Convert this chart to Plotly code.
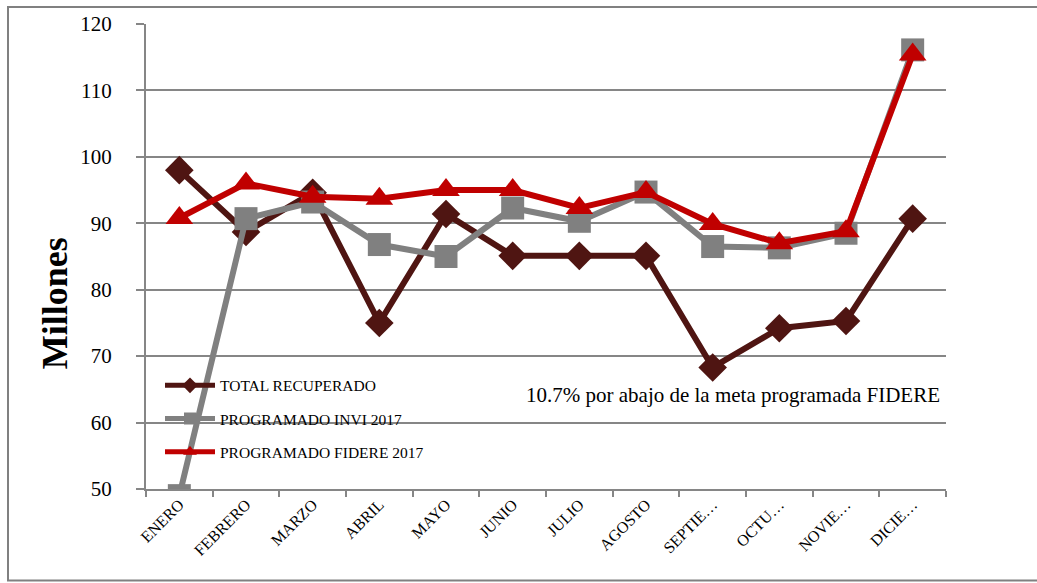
import plotly.graph_objects as go

months = ["ENERO", "FEBRERO", "MARZO", "ABRIL", "MAYO", "JUNIO", "JULIO",
          "AGOSTO", "SEPTIE…", "OCTU…", "NOVIE…", "DICIE…"]
total_recuperado = [98.0, 88.7, 94.6, 75.0, 91.4, 85.1, 85.1, 85.1, 68.3, 74.2, 75.3, 90.7]
programado_invi = [49.0, 90.7, 93.2, 86.8, 85.0, 92.3, 90.3, 94.7, 86.5, 86.3, 88.5, 116.1]
programado_fidere = [90.8, 96.0, 94.0, 93.7, 95.0, 95.0, 92.3, 94.7, 89.9, 87.0, 88.8, 115.4]
series_names = ["TOTAL RECUPERADO", "PROGRAMADO INVI 2017", "PROGRAMADO FIDERE 2017"]
note_text = "10.7% por abajo de la meta programada FIDERE"

FONT = "Liberation Serif"
W, H = 1037, 583
L, R, T, B = 146, 91, 21, 94
pw, ph = W - L - R, H - T - B

def px_x(x):
    return (x - L) / pw

def px_y(y):
    return (H - B - y) / ph

fig = go.Figure()
fig.add_trace(go.Scatter(
    x=months, y=total_recuperado, name=series_names[0], mode="lines+markers",
    line=dict(color="#4f1512", width=6),
    marker=dict(symbol="diamond", size=22, color="#4f1512"),
    legendgroup="a"))
fig.add_trace(go.Scatter(
    x=months, y=programado_invi, name=series_names[1], mode="lines+markers",
    line=dict(color="#808080", width=6),
    marker=dict(symbol="square", size=23, color="#808080"),
    legendgroup="b"))
fig.add_trace(go.Scatter(
    x=months, y=programado_fidere, name=series_names[2], mode="lines+markers",
    line=dict(color="#c00000", width=6),
    marker=dict(symbol="triangle-up", size=24, color="#c00000"),
    legendgroup="c"))

fig.update_layout(
    width=W, height=H,
    margin=dict(l=L, r=R, t=T, b=B, pad=0),
    paper_bgcolor="white", plot_bgcolor="white",
    font=dict(family=FONT, color="black"),
    showlegend=True,
    legend=dict(x=px_x(160), y=px_y(368), xanchor="left", yanchor="top",
                bgcolor="rgba(0,0,0,0)", font=dict(size=15.5, family=FONT),
                tracegroupgap=10, itemwidth=50, itemsizing="constant"),
    xaxis=dict(
        type="category", range=[-0.5, 11.5], showgrid=False,
        showline=True, linecolor="#868686", linewidth=2,
        ticks="outside", ticklen=6, tickcolor="#868686", tickwidth=2,
        tickson="boundaries", tickangle=-45, ticklabelstandoff=-2,
        tickfont=dict(size=16, family=FONT)),
    yaxis=dict(
        range=[50, 120], dtick=10, tick0=50,
        showgrid=True, gridcolor="#868686", gridwidth=2,
        showline=True, linecolor="#868686", linewidth=2,
        ticks="outside", ticklen=8, tickcolor="#868686", tickwidth=2,
        ticklabelstandoff=20,
        tickfont=dict(size=21, family=FONT), zeroline=False),
    annotations=[
        dict(text="<b>Millones</b>", textangle=-90, xref="paper", yref="paper",
             x=px_x(55), y=px_y(302), xanchor="center", yanchor="middle",
             showarrow=False,
             font=dict(size=36, family=FONT, color="black")),
        dict(text=note_text, xref="paper", yref="paper",
             x=px_x(733), y=px_y(394), xanchor="center", yanchor="middle",
             showarrow=False,
             font=dict(size=21, family=FONT, color="black")),
    ],
    shapes=[
        dict(type="rect", xref="paper", yref="paper",
             x0=px_x(8), x1=px_x(1060), y0=px_y(581), y1=px_y(4),
             line=dict(color="#808080", width=2), layer="below"),
    ],
)

fig.write_html("out.html", config={"displayModeBar": False},
               post_script="document.body.style.margin='0px';")
